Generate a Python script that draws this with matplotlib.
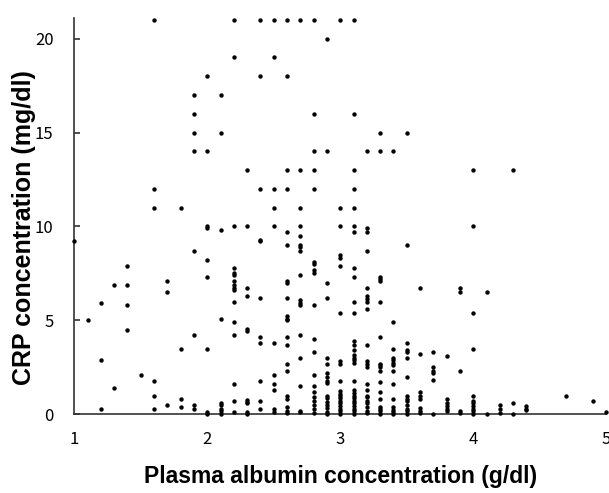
import numpy as np
import matplotlib
matplotlib.use("Agg")
import matplotlib.pyplot as plt

# Plasma albumin levels (g/dl) and the CRP values (mg/dl) observed at each level
albumin_levels = [1.0, 1.1, 1.2, 1.3, 1.4, 1.5, 1.6, 1.7, 1.8, 1.9,
                  2.0, 2.1, 2.2, 2.3, 2.4, 2.5, 2.6, 2.7, 2.8, 2.9,
                  3.0, 3.1, 3.2, 3.3, 3.4, 3.5, 3.6, 3.7, 3.8, 3.9,
                  4.0, 4.1, 4.2, 4.3, 4.4, 4.7, 4.9, 5.0]

crp_at_level = [
    [9.2],
    [5.0],
    [5.9, 2.9, 0.3],
    [6.9, 1.4],
    [7.9, 6.9, 5.8, 4.5],
    [2.1],
    [21, 12, 11, 1.8, 1.0, 0.3],
    [7.1, 6.5, 0.5],
    [11, 3.5, 0.8, 0.4],
    [17, 16, 15, 14, 8.7, 4.2, 0.5, 0.3],
    [18, 14, 10.0, 9.9, 8.2, 7.3, 3.5, 0.1, 0.0],
    [17, 15, 9.8, 5.1, 0.6, 0.5, 0.3, 0.2, 0.0],
    [21, 19, 10.0, 7.8, 7.5, 7.4, 7.1, 6.9, 6.7, 6.6, 6.0, 4.9, 4.2, 1.6, 0.7, 0.1],
    [13, 10.0, 6.7, 6.3, 4.55, 4.45, 0.75, 0.65, 0.6, 0.1, 0.0],
    [21, 18, 12, 9.3, 9.2, 6.2, 4.1, 3.8, 1.8, 0.7, 0.3],
    [21, 19, 12, 11, 10.0, 3.8, 2.1, 1.6, 1.3, 0.3, 0.1],
    [21, 18, 13, 12, 9.7, 9.0, 7.1, 7.0, 6.2, 5.25, 5.1, 5.0, 4.1, 3.7, 2.7, 2.3,
     1.0, 0.8, 0.4, 0.2, 0.05],
    [21, 13, 11, 10.0, 9.5, 9.0, 8.9, 8.7, 7.4, 6.1, 5.9, 5.8, 4.2, 3.0, 1.5, 0.2, 0.1],
    [21, 16, 14, 13, 12, 8.1, 8.0, 7.7, 7.5, 5.8, 4.0, 3.3, 2.1, 1.5, 1.2, 0.9, 0.7,
     0.5, 0.26, 0.05],
    [20, 14, 7.0, 6.2, 3.0, 2.7, 2.2, 2.0, 1.8, 1.65, 1.0, 0.85, 0.67, 0.5, 0.32,
     0.14, 0.02],
    [21, 11, 10.0, 8.5, 8.3, 7.9, 5.4, 2.85, 2.7, 1.8, 1.25, 1.1, 0.97, 0.85, 0.7,
     0.58, 0.44, 0.3, 0.16, 0.02],
    [21, 16, 13, 12, 11, 10.0, 9.7, 7.8, 7.3, 6.0, 5.4, 3.9, 3.7, 3.4, 3.15, 3.0,
     2.9, 2.75, 1.75, 1.3, 1.15, 1.0, 0.85, 0.7, 0.58, 0.44, 0.3, 0.16, 0.02],
    [14, 9.9, 9.7, 8.7, 6.7, 6.3, 6.15, 6.0, 5.6, 3.7, 2.85, 2.7, 2.5, 1.6, 1.3, 1.0,
     0.9, 0.7, 0.6, 0.4, 0.2, 0.05],
    [15, 14, 7.3, 7.2, 7.1, 6.0, 4.1, 2.7, 2.6, 2.5, 2.3, 1.7, 1.2, 0.8, 0.4, 0.3,
     0.15, 0.0],
    [14, 4.9, 3.5, 3.0, 2.9, 2.75, 2.6, 2.3, 1.6, 0.8, 0.4, 0.25, 0.1, 0.0],
    [15, 9.0, 3.8, 3.4, 3.3, 3.0, 2.0, 1.0, 0.8, 0.7, 0.5, 0.3, 0.15, 0.0],
    [6.7, 3.2, 1.2, 1.0, 0.8, 0.35, 0.2, 0.05],
    [3.3, 2.5, 2.3, 2.2, 1.85, 0.0],
    [3.1, 0.8, 0.6, 0.45, 0.3, 0.15],
    [6.7, 6.5, 2.3, 0.2, 0.05],
    [13, 10, 5.4, 3.5, 1.0, 0.7, 0.6, 0.45, 0.3, 0.15, 0.0],
    [6.5, 0.0],
    [0.5, 0.3, 0.05],
    [13, 0.6, 0.0],
    [0.45, 0.3, 0.25],
    [1.0],
    [0.7],
    [0.1],
]

x_ticks = [1, 2, 3, 4, 5]
y_ticks = [0, 5, 10, 15, 20]

albumin = np.concatenate([[a] * len(v) for a, v in zip(albumin_levels, crp_at_level)])
crp = np.concatenate(crp_at_level)

fig = plt.figure(figsize=(6.09, 4.93), dpi=100)
ax = fig.add_axes([0.122, 0.1596, 0.8735, 0.804])

ax.scatter(albumin, crp, s=10, color='black', linewidths=0, clip_on=False, zorder=3)

ax.set_xlim(1, 5)
ax.set_ylim(0, 21.1)

for side in ['top', 'right']:
    ax.spines[side].set_visible(False)
for side in ['left', 'bottom']:
    ax.spines[side].set_color('#333333')
    ax.spines[side].set_linewidth(1.2)

tick_font = dict(family='Noto Sans CJK JP', fontsize=12)
ax.set_xticks(x_ticks)
ax.set_yticks(y_ticks)
ax.set_xticklabels([str(t) for t in x_ticks], **tick_font)
ax.set_yticklabels([str(t) for t in y_ticks], **tick_font)
ax.tick_params(axis='x', length=0, pad=12)
ax.tick_params(axis='y', direction='in', length=4, width=1.2, color='#333333', pad=15)

ax.set_xlabel('Plasma albumin concentration (g/dl)', family='Liberation Sans',
              fontweight='bold', fontsize=16.5, labelpad=12)
ax.set_ylabel('CRP concentration (mg/dl)', family='Liberation Sans',
              fontweight='bold', fontsize=18)
ax.yaxis.set_label_coords(-0.072, 0.47)

fig.savefig('out.png', dpi=100)
